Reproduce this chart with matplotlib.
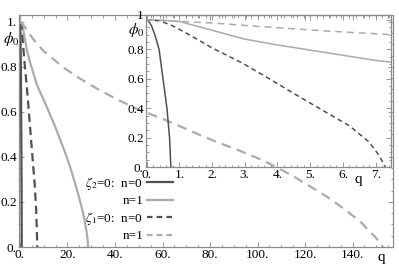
import matplotlib
matplotlib.use("Agg")
import matplotlib.pyplot as plt
from matplotlib.lines import Line2D
from matplotlib.ticker import MultipleLocator, FixedLocator, FixedFormatter
from matplotlib.transforms import ScaledTranslation

plt.rcParams['font.family'] = 'serif'
plt.rcParams['font.serif'] = ['Liberation Serif', 'DejaVu Serif']
plt.rcParams['mathtext.fontset'] = 'stix'
plt.rcParams['lines.scale_dashes'] = False

# zeta2 = 0, n = 0 (solid dark)
q_z2_n0 = [0, 0.05, 0.15, 0.25, 0.38, 0.5, 0.62, 0.7, 0.74]
phi_z2_n0 = [1, 0.995, 0.96, 0.9, 0.8, 0.6, 0.4, 0.2, 0]

# zeta2 = 0, n = 1 (solid light)
q_z2_n1 = [0, 0.5, 1, 1.5, 2, 3, 4, 5, 6, 7, 8, 9.5, 11.4, 13, 15, 17, 19, 21, 23,
           24.5, 26, 27.2, 28, 28.5, 28.7]
phi_z2_n1 = [1, 0.998, 0.99, 0.96, 0.93, 0.87, 0.83, 0.795, 0.76, 0.725, 0.7, 0.665,
             0.62, 0.58, 0.53, 0.475, 0.42, 0.36, 0.29, 0.235, 0.175, 0.12, 0.07,
             0.03, 0]

# zeta1 = 0, n = 0 (dashed dark)
q_z1_n0 = [0, 0.4, 0.8, 1.3, 2, 2.9, 3.6, 4.5, 5.5, 6.2, 6.8, 7.1, 7.3]
phi_z1_n0 = [1, 0.995, 0.96, 0.9, 0.81, 0.71, 0.62, 0.5, 0.37, 0.28, 0.17, 0.08, 0]

# zeta1 = 0, n = 1 (dashed light)
q_z1_n1 = [0, 1, 2, 3.5, 5.5, 7.5, 10, 13.5, 18, 25, 33, 42, 50, 60, 72, 82, 92, 100,
           107, 115, 122, 129, 135, 140, 144, 147, 149.5, 151.5, 152.8]
phi_z1_n1 = [1, 0.99, 0.98, 0.955, 0.925, 0.9, 0.87, 0.84, 0.8, 0.75, 0.70, 0.65,
             0.61, 0.57, 0.515, 0.47, 0.43, 0.395, 0.36, 0.315, 0.27, 0.225, 0.18,
             0.14, 0.105, 0.07, 0.045, 0.02, 0]

main_xticks = [0, 20, 40, 60, 80, 100, 120, 140]
main_xlabels = ["0.", "20.", "40.", "60.", "80.", "100.", "120.", "140."]
main_yticks = [0, 0.2, 0.4, 0.6, 0.8, 1.0]
main_ylabels = ["0.", "0.2", "0.4", "0.6", "0.8", "1."]
inset_xticks = [0, 1, 2, 3, 4, 5, 6, 7]
inset_xlabels = ["0.", "1.", "2.", "3.", "4.", "5.", "6.", "7."]
inset_ylabels = ["0.", "0.2", "0.4", "0.6", "0.8", "1"]

dark = '#505050'
light = '#ababab'
spine_c = '#8a8a8a'
fs = 9.5

fig = plt.figure(figsize=(3.99, 2.64), dpi=100)
W, H = 399, 264


def frame(ax, xmaj, xmin, ymaj, ymin):
    for s in ax.spines.values():
        s.set_color(spine_c)
        s.set_linewidth(0.9)
    ax.xaxis.set_major_locator(FixedLocator(xmaj))
    ax.xaxis.set_minor_locator(MultipleLocator(xmin))
    ax.yaxis.set_major_locator(FixedLocator(ymaj))
    ax.yaxis.set_minor_locator(MultipleLocator(ymin))
    ax.tick_params(which='both', direction='in', top=True, right=True,
                   color=spine_c, width=0.6, labelsize=fs, pad=1.5)
    ax.tick_params(which='major', length=3.5)
    ax.tick_params(which='minor', length=1.8)


# main axes
ax = fig.add_axes([19 / W, 1 - 247 / H, (393 - 19) / W, (247 - 15) / H])
ax.set_xlim(-0.4, 157)
ax.set_ylim(0, 1.031)
frame(ax, main_xticks, 5, main_yticks, 0.05)
ax.xaxis.set_major_formatter(FixedFormatter(main_xlabels))
ax.yaxis.set_major_formatter(FixedFormatter(main_ylabels))

ax.plot(q_z2_n0, phi_z2_n0, color=dark, lw=1.6)
ax.plot(q_z2_n1, phi_z2_n1, color=light, lw=1.6)
ax.plot(q_z1_n0, phi_z1_n0, color=dark, lw=1.6, dashes=(6, 3.5))
ax.plot(q_z1_n1, phi_z1_n1, color=light, lw=1.6, dashes=(7, 4.5))

fig.text(11 / W, 1 - 39 / H, r'$\phi_0$', fontsize=11, ha='center', va='center')
fig.text(381 / W, 1 - 258 / H, 'q', fontsize=fs + 1.5, ha='center', va='center')

handles = [Line2D([], [], color=dark, lw=1.6),
           Line2D([], [], color=light, lw=1.6),
           Line2D([], [], color=dark, lw=1.6, dashes=(4, 3)),
           Line2D([], [], color=light, lw=1.6, dashes=(4, 3))]
labels = [r'$\zeta_2$=0:  n=0', 'n=1', r'$\zeta_1$=0:  n=0', 'n=1']
ax.legend(handles, labels, loc='upper right', frameon=False, markerfirst=False,
          fontsize=fs, handlelength=2.0, handletextpad=0.25, labelspacing=0.22,
          borderpad=0, borderaxespad=0,
          bbox_to_anchor=(173 / W, 1 - 175 / H), bbox_transform=fig.transFigure)

# inset axes
ai = fig.add_axes([146 / W, 1 - 167 / H, (391 - 146) / W, (167 - 15) / H])
ai.set_facecolor('none')
ai.set_xlim(-0.02, 7.47)
ai.set_ylim(0, 1.034)
frame(ai, inset_xticks, 0.2, main_yticks, 0.05)
ai.xaxis.set_major_formatter(FixedFormatter(inset_xlabels))
ai.yaxis.set_major_formatter(FixedFormatter(inset_ylabels))
fig.canvas.draw()
top_lab = ai.get_yticklabels()[-1]
top_lab.set_transform(top_lab.get_transform() + ScaledTranslation(0, 4 / 72, fig.dpi_scale_trans))

ai.plot(q_z2_n0, phi_z2_n0, color=dark, lw=1.1)
ai.plot(q_z2_n1, phi_z2_n1, color=light, lw=1.1)
ai.plot(q_z1_n0, phi_z1_n0, color=dark, lw=1.1, dashes=(3.5, 2.5))
ai.plot(q_z1_n1, phi_z1_n1, color=light, lw=1.1, dashes=(5, 3.5))

fig.text(136 / W, 1 - 30 / H, r'$\phi_0$', fontsize=11, ha='center', va='center')
fig.text(358 / W, 1 - 180 / H, 'q', fontsize=fs + 1.5, ha='center', va='center')

fig.savefig('out.png', dpi=100)
